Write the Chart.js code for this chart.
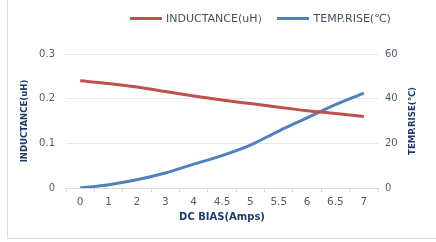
<!DOCTYPE html>
<html>
<head>
<meta charset="utf-8">
<script src="https://cdn.jsdelivr.net/npm/chart.js@4/dist/chart.umd.min.js"></script>
<style>
    body { margin: 0; background: #fff; }
    #wrap { position: relative; width: 436px; height: 242px; overflow: hidden; }
    #frame { position: absolute; left: 7px; top: -2px; width: 440px; height: 240px;
             border-left: 1px solid #d3dfec; border-bottom: 1px solid #d3dfec; }
    #legend { position: absolute; left: 130px; top: 11px; font: 11px "DejaVu Sans", sans-serif; color: #46505e; white-space: nowrap; }
    #legend span.item { display: inline-block; margin-right: 9px; }
    #legend span.swatch { display: inline-block; width: 32px; height: 3px; vertical-align: middle; margin-right: 4px; position: relative; top: -1px; }
</style>
</head>
<body>
<div id="wrap">
    <div id="frame"></div>
    <canvas id="chart" width="436" height="242"></canvas>
    <div id="legend"></div>
</div>
<script>
var categories = ['0', '1', '2', '3', '4', '4.5', '5', '5.5', '6', '6.5', '7'];
var inductance = [0.24, 0.234, 0.226, 0.216, 0.206, 0.197, 0.189, 0.181, 0.173, 0.167, 0.16];
var tempRise = [0, 1.5, 3.7, 6.7, 10.7, 14.5, 19.2, 25.5, 31.4, 37.3, 42.5];
var leftTicks = [0, 0.1, 0.2, 0.3];
var rightTicks = [0, 20, 40, 60];

var tickColor = '#525c6c';
var titleColor = '#1f3a68';
var gridColor = '#e3e9f1';

// right axis title reads bottom-to-top, chart.js rotates it the other way
var rightTitle = {
    id: 'rightTitle',
    afterDraw: function(chart) {
        var ctx = chart.ctx;
        var area = chart.chartArea;
        ctx.save();
        ctx.translate(413, (area.top + area.bottom) / 2);
        ctx.rotate(-Math.PI / 2);
        ctx.font = 'bold 9.5px "DejaVu Sans Condensed", "DejaVu Sans", sans-serif';
        ctx.fillStyle = titleColor;
        ctx.textAlign = 'center';
        ctx.textBaseline = 'middle';
        ctx.fillText('TEMP.RISE(℃)', 0, 0);
        ctx.restore();
    }
};

var ctx = document.getElementById('chart').getContext('2d');
var chart = new Chart(ctx, {
    type: 'line',
    data: {
        labels: categories,
        datasets: [{
            label: 'INDUCTANCE(uH）',
            data: inductance,
            yAxisID: 'y',
            borderColor: '#c0504d',
            backgroundColor: '#c0504d',
            borderWidth: 3,
            pointRadius: 0,
            cubicInterpolationMode: 'monotone'
        }, {
            label: 'TEMP.RISE(℃)',
            data: tempRise,
            yAxisID: 'y1',
            borderColor: '#4f81bd',
            backgroundColor: '#4f81bd',
            borderWidth: 3,
            pointRadius: 0,
            cubicInterpolationMode: 'monotone'
        }]
    },
    options: {
        responsive: false,
        animation: false,
        layout: { padding: { top: 54, bottom: 16, left: 0, right: 0 } },
        plugins: {
            legend: { display: false },
            tooltip: { enabled: false }
        },
        scales: {
            x: {
                offset: true,
                grid: { offset: true, drawOnChartArea: false, drawTicks: true, tickLength: 4, color: '#d9d9d9' },
                border: { color: '#d9d9d9' },
                ticks: { color: tickColor, font: { family: 'DejaVu Sans', size: 10.5 }, padding: 4, maxRotation: 0 },
                title: { display: true, text: 'DC BIAS(Amps)', color: titleColor,
                         font: { family: 'DejaVu Sans', size: 10, weight: 'bold' }, padding: { top: 0, bottom: 3 } },
                afterFit: function(scale) { scale.height = 38; }
            },
            y: {
                position: 'left',
                min: 0,
                max: 0.3,
                afterBuildTicks: function(scale) { scale.ticks = leftTicks.map(function(v) { return { value: v }; }); },
                grid: { color: gridColor, drawTicks: false },
                border: { display: false },
                ticks: { color: tickColor, font: { family: 'DejaVu Sans', size: 10 }, padding: 11 },
                title: { display: true, text: 'INDUCTANCE(uH)', color: titleColor,
                         font: { family: '"DejaVu Sans Condensed", "DejaVu Sans"', size: 9.5, weight: 'bold' }, padding: { top: 19, bottom: 0 } },
                afterFit: function(scale) { scale.width = 66; }
            },
            y1: {
                position: 'right',
                min: 0,
                max: 60,
                afterBuildTicks: function(scale) { scale.ticks = rightTicks.map(function(v) { return { value: v }; }); },
                grid: { drawOnChartArea: false, drawTicks: false },
                border: { display: false },
                ticks: { color: tickColor, font: { family: 'DejaVu Sans', size: 10 }, padding: 7 },
                afterFit: function(scale) { scale.width = 58; }
            }
        }
    },
    plugins: [rightTitle]
});

// html legend from the datasets
var legend = document.getElementById('legend');
chart.data.datasets.forEach(function(ds) {
    var item = document.createElement('span');
    item.className = 'item';
    var sw = document.createElement('span');
    sw.className = 'swatch';
    sw.style.background = ds.borderColor;
    item.appendChild(sw);
    item.appendChild(document.createTextNode(ds.label));
    legend.appendChild(item);
});
</script>
</body>
</html>
